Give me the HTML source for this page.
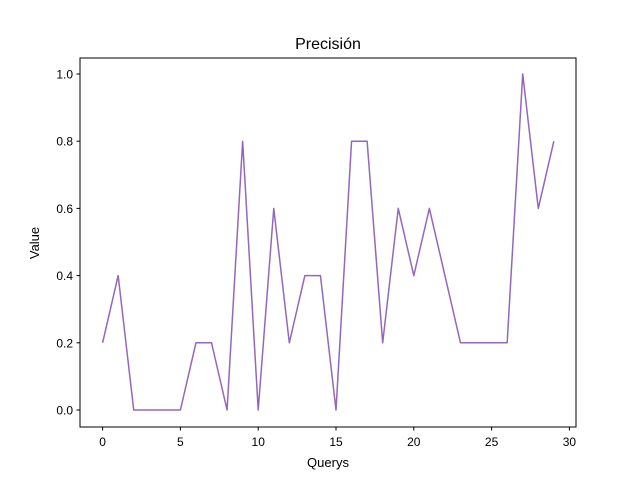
<!DOCTYPE html>
<html><head><meta charset="utf-8"><style>
body{margin:0;background:#fff;}
svg{display:block;font-family:"Liberation Sans","DejaVu Sans",sans-serif;}
</style></head><body>
<svg id="chart" width="640" height="480" viewBox="0 0 640 480">
<rect width="640" height="480" fill="#fff"/>
<text x="328" y="49" text-anchor="middle" font-size="16">Precisión</text>
<text x="328" y="467" text-anchor="middle" font-size="13">Querys</text>
<text transform="translate(39,243) rotate(-90)" text-anchor="middle" font-size="13">Value</text>
<g id="ticks"></g>
<polyline id="line" fill="none" stroke="#9467bd" stroke-width="1.5" stroke-linejoin="round"/>
<rect x="80" y="58" width="496" height="369" fill="none" stroke="#000" stroke-width="1"/>
</svg>
<script>
const queries = [0,1,2,3,4,5,6,7,8,9,10,11,12,13,14,15,16,17,18,19,20,21,22,23,24,25,26,27,28,29];
const precision = [0.2,0.4,0,0,0,0,0.2,0.2,0,0.8,0,0.6,0.2,0.4,0.4,0,0.8,0.8,0.2,0.6,0.4,0.6,0.4,0.2,0.2,0.2,0.2,1.0,0.6,0.8];
const xTicks = [0,5,10,15,20,25,30];
const yTicks = [0.0,0.2,0.4,0.6,0.8,1.0];
const yTickLabels = ["0.0","0.2","0.4","0.6","0.8","1.0"];
function xs(v){return 102.6 + v*15.56;}
function ys(v){return 410 - v*336;}
const NS="http://www.w3.org/2000/svg";
const g=document.getElementById('ticks');
xTicks.forEach(t=>{
  const l=document.createElementNS(NS,'line');
  l.setAttribute('x1',xs(t));l.setAttribute('x2',xs(t));l.setAttribute('y1',427);l.setAttribute('y2',430.5);l.setAttribute('stroke','#000');
  
  
  g.appendChild(l);
  const tx=document.createElementNS(NS,'text');
  tx.setAttribute('x',xs(t));tx.setAttribute('y',446);tx.setAttribute('text-anchor','middle');tx.setAttribute('font-size','12');
  tx.textContent=t;
  
  
  g.appendChild(tx);
});
yTicks.forEach((t,i)=>{
  const l=document.createElementNS(NS,'line');
  l.setAttribute('x1',76.5);l.setAttribute('x2',80);l.setAttribute('y1',ys(t));l.setAttribute('y2',ys(t));l.setAttribute('stroke','#000');
  
  
  g.appendChild(l);
  const tx=document.createElementNS(NS,'text');
  tx.setAttribute('x',73);tx.setAttribute('y',ys(t)+4.5);tx.setAttribute('text-anchor','end');tx.setAttribute('font-size','12');
  tx.textContent=yTickLabels[i];
  
  
  g.appendChild(tx);
});
document.getElementById('line').setAttribute('points',queries.map((q,i)=>xs(q)+','+ys(precision[i])).join(' '));
</script>
</body></html>
